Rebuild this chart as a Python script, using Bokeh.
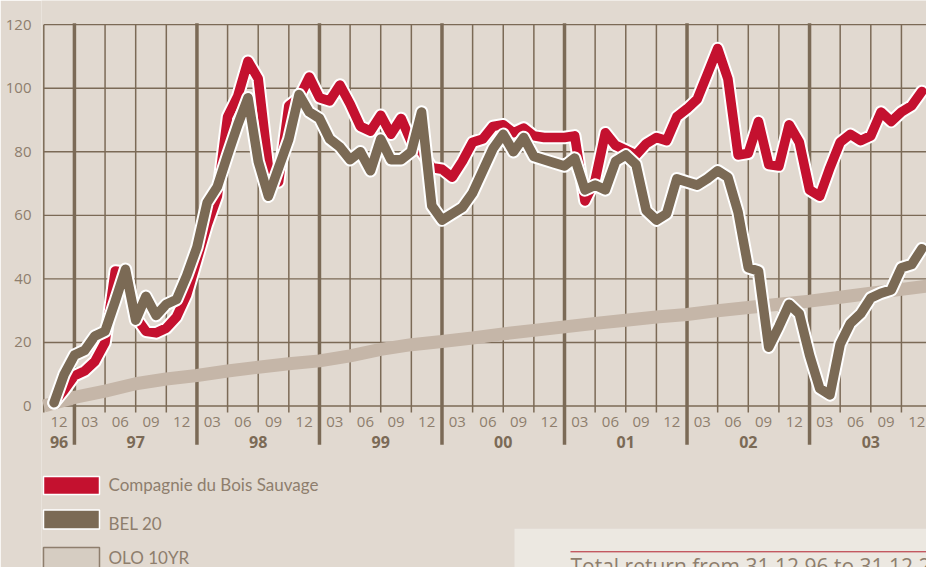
from bokeh.plotting import figure
from bokeh.models import Range1d, FixedTicker
from bokeh.core.properties import value
from bokeh.embed import file_html
from bokeh.resources import INLINE

# ---------------- data ----------------
# x position in months, 0 = start of Oct 1996 (left edge of the chart)
months = list(range(1, 87))

cbs = [1, 5, 9.5, 11, 14, 20, 42.5, 42, 28, 23.5, 23, 24.5, 28, 35, 46, 57, 66, 91,
       97.5, 108.5, 103, 75, 70.5, 94.5, 97, 103.5, 97, 96, 101, 95, 88, 86.5, 91.5,
       85.5, 90.5, 83, 80, 75, 74.5, 72, 77, 83, 84, 88, 88.5, 86, 87.5, 85, 84.5,
       84.5, 84.5, 85, 64.5, 71, 86, 82, 80.5, 79, 82.5, 84.5, 83.5, 91, 93.5, 96.5,
       104.5, 112.5, 103, 79, 79.5, 89.5, 76, 75.5, 88.5, 83, 68, 66, 75, 83, 85.5,
       83.5, 85, 92.5, 89.5, 92.5, 94.5, 99]

bel20 = [1, 10, 16, 17.5, 22, 23.5, 33, 43, 27, 34.5, 28.5, 32, 33.5, 41, 50, 64, 69,
         79, 88.5, 97, 77, 66, 75, 84, 98, 92.5, 90.5, 84, 81.5, 77.5, 80, 74, 84,
         77.5, 77.5, 80, 92.5, 63, 58.5, 60.5, 62.5, 67, 74, 81, 85.5, 80, 84.5, 78.5,
         77.5, 76.5, 75.5, 78, 68, 69.5, 68, 77, 79, 76, 61.5, 58.5, 60.5, 71.5, 70.5,
         69.5, 71.5, 74, 72, 61, 43.5, 42.5, 18.5, 25, 32, 29, 16, 5.5, 3.5, 19.5, 26,
         29, 34, 35.5, 36.5, 43.5, 44.5, 49.5]

olo_months = [0, 3, 6, 9, 12, 15, 18, 21, 24, 27, 30, 33, 36, 39, 42, 45, 48, 51,
              54, 57, 60, 63, 66, 69, 72, 75, 78, 81, 84, 87]
olo10yr = [0, 2.7, 4.7, 7, 8.5, 9.6, 11, 12.2, 13.3, 14.2, 15.8, 17.8, 19.3, 20.3,
           21.4, 22.7, 23.8, 24.9, 26, 27, 28, 28.8, 30, 31, 32, 33, 34.2, 35.5,
           36.7, 37.9]

y_ticks = [0, 20, 40, 60, 80, 100, 120]
quarter_names = ["12", "03", "06", "09"]
year_names = ["96", "97", "98", "99", "00", "01", "02", "03"]
year_starts = [0, 3, 15, 27, 39, 51, 63, 75]
year_ends = [3, 15, 27, 39, 51, 63, 75, 87]
series_names = ["Compagnie du Bois Sauvage", "BEL 20", "OLO 10YR"]
note_text = "Total return from 31.12.96 to 31.12.2003"

# ---------------- style ----------------
BG = "#e1d9d0"
GRID = "#7b6a56"
RED = "#c4112f"
BROWN = "#7b6a55"
OLO = "#c5b6a8"
LABEL = "#8e7e6d"
TICKFONT = "Open Sans"
LEGFONT = "Lato"

W, H = 926, 567
p = figure(width=W, height=H, output_backend="svg", toolbar_location=None,
           x_range=Range1d(-0.2253, 86.455), y_range=Range1d(-50.82, 127.60),
           min_border_left=41, min_border_right=0, min_border_top=0, min_border_bottom=0,
           x_axis_location=None)
p.background_fill_color = BG
p.border_fill_color = BG
p.outline_line_color = None
p.xgrid.visible = False
p.ygrid.visible = False

ax = p.yaxis[0]
ax.ticker = FixedTicker(ticks=y_ticks)
ax.axis_line_color = None
ax.major_tick_line_color = None
ax.minor_tick_line_color = None
ax.major_label_standoff = 4
ax.major_label_text_font = TICKFONT
ax.major_label_text_font_size = "15px"
ax.major_label_text_color = LABEL

# horizontal grid
p.segment(x0=[0] * len(y_ticks), x1=[90] * len(y_ticks), y0=y_ticks, y1=y_ticks,
          line_color=GRID, line_width=1.4)

# quarter separators (thin) and year separators (thick)
q_lines = [3 * k for k in range(0, 29) if (3 * k) not in year_starts[1:]]
p.segment(x0=q_lines, x1=q_lines, y0=[-2.05] * len(q_lines), y1=[120] * len(q_lines),
          line_color=GRID, line_width=1.5)
y_lines = year_starts[1:]
p.segment(x0=y_lines, x1=y_lines, y0=[-12.2] * len(y_lines), y1=[120.45] * len(y_lines),
          line_color=GRID, line_width=3.5)

# quarter labels
q_x = [1.5 + 3 * k for k in range(29)]
q_t = [quarter_names[k % 4] for k in range(29)]
p.text(x=q_x, y=[-5.0] * len(q_x), text=q_t, text_align="center", text_baseline="middle",
       text_font=value(TICKFONT), text_font_size="15px", text_color=LABEL)
# year labels
yr_x = [(a + b) / 2 for a, b in zip(year_starts, year_ends)]
p.text(x=yr_x, y=[-11.4] * len(yr_x), text=year_names, text_align="center",
       text_baseline="middle", text_font=value(TICKFONT), text_font_size="16px",
       text_font_style="bold", text_color=GRID)

# series
p.line(olo_months, olo10yr, line_color=OLO, line_width=13, line_cap="butt")
p.line(months, cbs, line_color="white", line_width=13.5, line_join="round", line_cap="round")
p.line(months, cbs, line_color=RED, line_width=9.5, line_join="round", line_cap="round")
p.line(months, bel20, line_color="white", line_width=13.5, line_join="round", line_cap="round")
p.line(months, bel20, line_color=BROWN, line_width=9.5, line_join="round", line_cap="round")

# ---------------- legend (drawn below the chart) ----------------
def mx(px):
    return (px - 43.3) / 10.21

def vy(py):
    return (405.5 - py) / 3.178

p.quad(left=[mx(43)], right=[mx(99)], top=[vy(476)], bottom=[vy(494)],
       fill_color=RED, line_color="white", line_width=1.5)
p.quad(left=[mx(43)], right=[mx(99)], top=[vy(509.5)], bottom=[vy(528.5)],
       fill_color=BROWN, line_color="white", line_width=1.5)
p.quad(left=[mx(43)], right=[mx(99)], top=[vy(547)], bottom=[vy(575)],
       fill_color="#d6cdc2", line_color=LABEL, line_width=1.5)
p.text(x=[mx(108)] * 3, y=[vy(484), vy(523), vy(557.5)], text=series_names,
       text_align="left", text_baseline="middle", text_font=value(LEGFONT),
       text_font_size="17px", text_color=LABEL)

# note panel at bottom right
p.quad(left=[mx(514)], right=[95], top=[vy(528.3)], bottom=[-60],
       fill_color="#ece8e1", line_color=None)
p.segment(x0=[mx(570)], x1=[95], y0=[vy(551.3)], y1=[vy(551.3)],
          line_color="#b3202e", line_width=1)
p.text(x=[mx(570)], y=[vy(566)], text=[note_text],
       text_align="left", text_baseline="middle", text_font=value(TICKFONT),
       text_font_size="21px", text_color=LABEL)

open("out.html", "w").write(file_html(p, INLINE))
